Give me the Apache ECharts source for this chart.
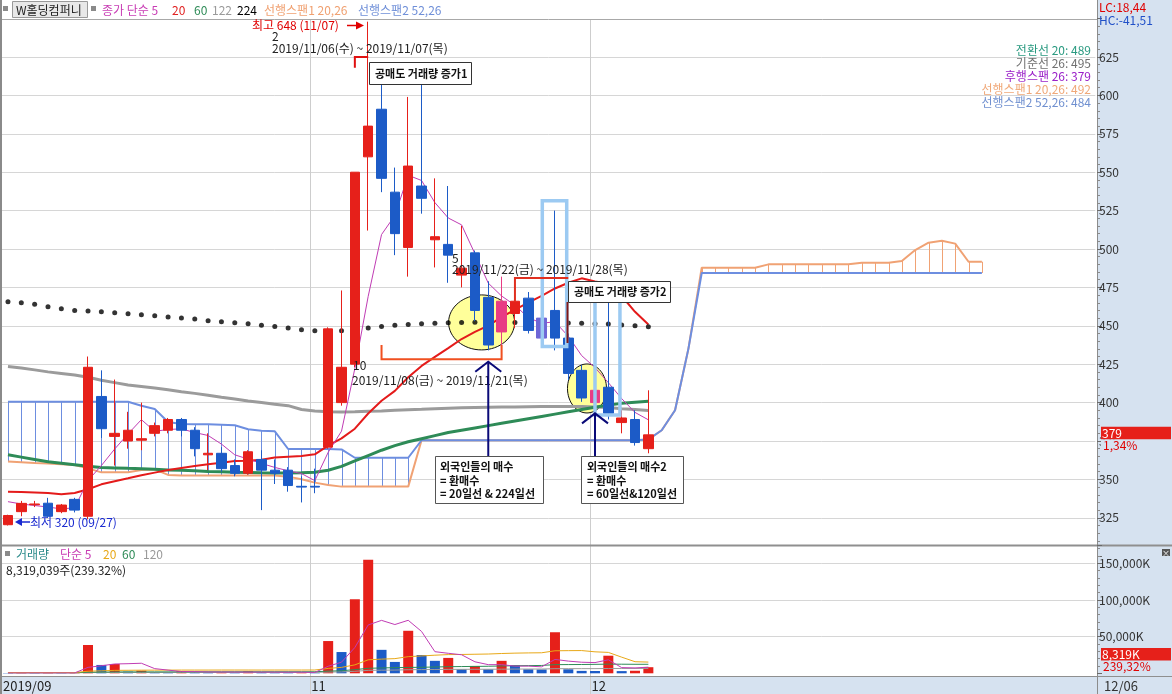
<!DOCTYPE html>
<html>
<head>
<meta charset="utf-8">
<script src="https://cdn.jsdelivr.net/npm/echarts@6.0.0/dist/echarts.min.js"></script>
<style>
html,body{margin:0;padding:0;background:#fff;overflow:hidden}
#chart{width:1172px;height:694px}
</style>
</head>
<body>
<div id="chart"></div>
<script>
// ---------------- DATA ----------------
const dates = ['2019/09/27','2019/09/30','2019/10/01','2019/10/02','2019/10/04','2019/10/07','2019/10/08','2019/10/10','2019/10/11','2019/10/14','2019/10/15','2019/10/16','2019/10/17','2019/10/18','2019/10/21','2019/10/22','2019/10/23','2019/10/24','2019/10/25','2019/10/28','2019/10/29','2019/10/30','2019/10/31','2019/11/01','2019/11/04','2019/11/05','2019/11/06','2019/11/07','2019/11/08','2019/11/11','2019/11/12','2019/11/13','2019/11/14','2019/11/15','2019/11/18','2019/11/19','2019/11/20','2019/11/21','2019/11/22','2019/11/25','2019/11/26','2019/11/27','2019/11/28','2019/11/29','2019/12/02','2019/12/03','2019/12/04','2019/12/05','2019/12/06'];
const opens  = [320.5,329,333.5,334.5,329,337,326,404,378,375,375.5,380,382,389,382,366,367,359,354,363,356,356,345.5,345.5,371,400,425,560,591,537,501,541,506,503,483,497.5,468.5,446,458,468,455,460,442,421,400,410,387,389,370];
const closes = [326.5,334.4,334,326,333.3,330,423,383,380,382,376.5,385,389,382,370,367,357,354,368,356,354,346,345,345,448,423,550,580,546,510,554,533,508,496,487.5,460,437.5,466,466,447,442,442,419,403,408,393,390,374,379];
const highs  = [327,336,336,338,334,338,430,421,415,394,400,387,390,390,384,380,371,363,369,369,363,358,352,357,449,473,550,648,610,553,599,610,546,541,515,499,479,482,468,472,457,525,445,424.5,420,469,395,395,408];
const lows   = [320,326,332,325,328,328.5,324,377,359,370,369,378,380,378,365,356,355,352,353,330,347,342,335,341,370,398,423,512,537,496,482,523,488,478,475,453,434,432,448.5,445,437.5,434,414.7,400.5,396,389,380,372,367];
const volumes = [400,500,450,600,350,500,38600,11400,12700,2300,3600,1800,1400,2800,1900,1300,1500,1000,2600,1800,1200,900,1100,800,44000,29000,101000,155000,32000,15500,58000,25000,17000,21000,5500,10000,5500,17000,11000,5500,5200,56000,5500,3300,3100,24000,3000,3480,8319];

const ma5   = [335.5,334,333,332,330.8,331.5,349.3,359,369.8,379.6,388.9,381.3,382.5,382.9,380.5,378.6,373,366,363.2,360.4,357.8,355.6,353.8,349.2,367.6,381.4,422.2,469.2,509.4,521.8,548,544.6,530.2,520.2,515.7,496.9,477.8,469.4,463.4,455.3,451.7,452.6,443.2,430.6,422.8,413,402.6,393.6,388.8];
const ma20  = [342,341.8,341.5,341.1,340.4,341.2,343.6,346.8,348.8,350.7,352.7,354.4,356.1,357.4,358.7,359.8,360.9,362,362.2,362.8,364.2,364.8,365.3,366.3,372,376.7,383,392.9,401.2,407.6,416.5,423.9,429.8,435.5,441.4,446,450.1,455.7,460.6,465.1,469.5,474.3,478,480.9,478.9,477.4,469.4,459.1,450.8];
const ma60  = [366,364.5,363,361.5,360.5,359.5,358.5,357.8,357.5,357.2,357,356.6,356.2,355.9,355.6,355.2,355,354.7,354.5,354.3,354.2,354.2,354.3,354.7,356,358.5,362,365.5,369,372,374.5,376.5,378.5,380.5,382,383.5,385,386.5,388,389.5,391,392.5,394,395.5,397,398.5,399.5,400.2,400.8];
const ma122 = [423.5,422.5,421.3,420,419,418,416.5,414.5,413,411.5,410.5,409.5,408.3,407,406,404.8,403.5,402.3,401,400,399,398,395.5,394.5,394,393.8,394,394.3,394.6,395,395.3,395.6,396,396.3,396.6,396.8,397,397.1,397.2,397.3,397.4,397.5,397.5,397.4,397.2,396.8,396,395.5,394.8];
const ma224 = [465.7,465.0,464.0,462.4,461.1,459.9,459.7,459.2,458.5,457.9,457.2,456.6,455.7,455.1,454.4,453.3,452.7,452.0,451.3,450.4,449.5,448.6,447.5,446.8,446.5,446.8,447.5,448.5,449.5,450.3,450.9,451.3,451.7,452.0,452.2,452.3,452.3,452.3,452.2,452.1,452.0,451.9,451.8,451.6,451.4,451.2,450.6,450.0,449.4];
// leading spans (shifted 25 slots ahead of the last candle)
const span1 = [361.6,361.2,360.7,360.3,359.9,359.4,357.2,354.6,354.6,354.6,356.1,356.5,352.9,352.5,352.5,352.5,352.5,352.5,352.5,352.5,352.5,351.8,350.1,347.9,346.4,345.3,345.3,345.3,345.3,345.3,345.3,
  375.5,375.5,375.5,375.5,375.5,375.5,375.5,375.5,375.5,375.5,375.5,375.5,375.5,375.5,375.5,375.5,375.5,
  376,382,395,435,487.8,487.8,487.8,487.8,487.8,490,490,490,490,490,490,490,491.1,491.1,491.1,492.2,499.3,504.1,505.4,503.5,491.7,491.7];
const span2 = [400.6,400.6,400.6,400.6,400.6,400.6,400.6,400.6,400.6,400.6,398,395.8,387.4,386.1,385.9,385.9,385.6,385.2,382.6,381.7,381.3,369.8,369.8,369.8,369.8,369.5,364.1,364.1,364.1,364.1,364.1,
  375.5,375.5,375.5,375.5,375.5,375.5,375.5,375.5,375.5,375.5,375.5,375.5,375.5,375.5,375.5,375.5,375.5,
  376,382,395,435,484.4,484.4,484.4,484.4,484.4,484.4,484.4,484.4,484.4,484.4,484.4,484.4,484.4,484.4,484.4,484.4,484.4,484.4,484.4,484.4,484.4,484.4];
const volMa5   = [450,450,460,470,460,480,8100,10290,12710,13100,13720,6360,4360,2380,2300,1840,1780,1700,1660,1640,1620,1500,1520,1160,9600,15160,35180,65960,72200,66500,72300,57100,29500,27300,25300,15700,11800,11800,9800,9800,8840,18940,16640,15100,14620,18380,7780,7376,8380];
const volMa20  = [1000,1000,1000,1000,1000,1000,2900,3400,4000,4100,4250,4300,4350,4400,4400,4400,4450,4450,4450,4400,4450,4450,4450,4480,6660,8080,11500,18400,19350,20000,22700,23700,24700,25500,25700,26000,26300,27000,27500,27800,28000,30700,30900,31000,29300,28500,22000,15800,15300];
const volMa60  = [800,800,800,800,800,800,1450,1650,1850,1880,1920,1950,1960,1980,2000,2010,2020,2030,2040,2050,2060,2070,2080,2090,3000,3500,5000,6800,7300,7700,8000,8200,8600,9000,9200,9400,9600,10000,10300,10500,10700,11800,11900,12000,12200,12500,12400,12300,12300];
const volMa120 = [600,600,600,600,600,600,900,1000,1050,1080,1100,1120,1130,1150,1160,1170,1180,1190,1200,1210,1220,1230,1240,1250,1650,1900,2700,4000,4250,4400,4850,5050,5200,5350,5400,5480,5520,5650,5740,5780,5820,6280,6320,6340,6360,6560,6580,6610,6670];

const xTickLabels = ['2019/09','11','12'];
const xTickIndex  = [0, 23, 44];
const futureSlots = 33;

// ---------------- STYLE ----------------
const F = '"Noto Sans CJK KR","Noto Sans",sans-serif';
const RED='#e6201a', BLUE='#1c5bc7', PINK='#e83c84', LAV='#6e66d6';
const SP1='#f0a274', SP2='#6d8ee0';
const PANEL='#d6e2f0';
const highlight = {37:PINK, 40:LAV, 44:PINK};

const cats = dates.concat(Array.from({length:futureSlots},(_,k)=>'+'+(k+1)));
const candleData = dates.map((d,i)=>{
  const it = {value:[opens[i], closes[i], lows[i], highs[i]]};
  if (highlight[i]) it.itemStyle = {color:highlight[i], color0:highlight[i], borderColor:highlight[i], borderColor0:highlight[i]};
  return it;
});
const volData = volumes.map((v,i)=>({value:v, itemStyle:{color:(i>0 && v>volumes[i-1])?RED:BLUE}}));

function lineS(data, color, width, xi, z){
  return {type:'line', xAxisIndex:xi, yAxisIndex:xi, data:data, showSymbol:false, symbol:'none', silent:true,
    lineStyle:{color:color, width:width}, itemStyle:{color:color}, z:z||3, emphasis:{disabled:true}};
}
function labelAxis(gi, min, max, interval, fmt){
  return {type:'value', gridIndex:gi, position:'right', offset:1.7, min:min, max:max, interval:interval, z:12,
    axisLine:{show:true, lineStyle:{color:'#8c8c8c'}},
    axisTick:{show:true, length:5, lineStyle:{color:'#6a6a6a'}},
    minorTick:{show:true, splitNumber:5, length:3, lineStyle:{color:'#8a8a8a'}},
    axisLabel:{show:true, color:'#333', fontSize:12, fontFamily:F, margin:2, showMinLabel:false, showMaxLabel:false, formatter:fmt},
    splitLine:{show:false}};
}
function gridAxis(gi, min, max, interval){
  return {type:'value', gridIndex:gi, position:'right', min:min, max:max, interval:interval, z:1,
    axisLine:{show:false}, axisTick:{show:false}, axisLabel:{show:false}, minorTick:{show:false},
    splitLine:{show:true, showMinLine:false, showMaxLine:false, lineStyle:{color:'#d6d6d6'}}};
}

const option = {
  animation:false,
  backgroundColor:'#ffffff',
  textStyle:{fontFamily:F},
  grid:[
    {left:1.3, right:76.7, top:18.6, height:537.6, outerBoundsMode:'none'},
    {left:1.3, right:76.7, top:545, height:128.3, outerBoundsMode:'none'}
  ],
  xAxis:[
    {type:'category', gridIndex:0, data:cats, boundaryGap:true, axisLine:{show:false}, axisTick:{show:false}, axisLabel:{show:false}, splitLine:{show:false}},
    {type:'category', gridIndex:1, data:cats, boundaryGap:true, axisLine:{show:false}, axisTick:{show:false}, axisLabel:{show:false}, splitLine:{show:false}}
  ],
  yAxis:[
    labelAxis(0, 300, 650, 25, function(v){return String(v);}),
    labelAxis(1, 0, 175000, 50000, function(v){return v.toLocaleString('en-US')+'K';}),
    gridAxis(0, 300, 650, 25),
    gridAxis(1, 0, 175000, 50000)
  ],
  series:[
    {type:'custom', xAxisIndex:0, yAxisIndex:0, z:3, silent:true,
      data: span1.map((a,i)=>[i, a, span2[i]]), encode:{x:0, y:[1,2]},
      renderItem:function(params, api){
        const a = api.value(1), b = api.value(2);
        if (Math.abs(a-b) < 0.05) return {type:'group', children:[]};
        const p = api.coord([api.value(0), a]);
        const q = api.coord([api.value(0), b]);
        const x = Math.round(p[0]) + 0.5;
        return {type:'line', shape:{x1:x, y1:p[1], x2:x, y2:q[1]}, style:{stroke: b > a ? SP2 : SP1, lineWidth:1}};
      }},
    lineS(span1, SP1, 2, 0, 3),
    lineS(span2, SP2, 2, 0, 3),
    lineS(ma122, '#9b9b9b', 3, 0, 3),
    lineS(ma60, '#2e8b57', 3, 0, 3),
    lineS(ma20, '#e41b1b', 2, 0, 3),
    lineS(ma5, '#c03cb4', 1, 0, 3),
    {type:'scatter', xAxisIndex:0, yAxisIndex:0, data: ma224.map((v,i)=>[i,v]), symbol:'circle', symbolSize:5,
      itemStyle:{color:'#000'}, silent:true, z:4, emphasis:{disabled:true}},
    {type:'candlestick', xAxisIndex:0, yAxisIndex:0, data:candleData, barWidth:10, z:5, silent:true,
      itemStyle:{color:RED, color0:BLUE, borderColor:RED, borderColor0:BLUE, borderWidth:1}},
    {type:'bar', xAxisIndex:1, yAxisIndex:1, data:volData, barWidth:10, z:3, silent:true},
    lineS(volMa120, '#9b9b9b', 1, 1, 4),
    lineS(volMa60, '#2e8b57', 1, 1, 4),
    lineS(volMa20, '#e8a818', 1, 1, 4),
    lineS(volMa5, '#c03cb4', 1, 1, 4)
  ]
};

const chart = echarts.init(document.getElementById('chart'), null, {renderer:'canvas'});
chart.setOption(option);

// ---------------- decorations / annotations ----------------
const X0 = chart.convertToPixel({xAxisIndex:0}, cats[0]);
const X1 = chart.convertToPixel({xAxisIndex:0}, cats[1]);
const W = X1 - X0;
const px = i => X0 + i*W;
const py = v => chart.convertToPixel({yAxisIndex:0}, v);

const G = [];
function T(x, y, text, color, o){
  o = o || {};
  G.push({type:'text', x:x, y:y, z:o.z||10, silent:true,
    style:{text:text, fill:color, font:(o.bold?'bold ':'')+(o.size||12)+'px '+F,
      textAlign:o.align||'left', textVerticalAlign:'middle', verticalAlign:'middle'}});
}
function L(x1,y1,x2,y2,color,w,z){
  G.push({type:'line', silent:true, z:(z===undefined?10:z), shape:{x1:x1,y1:y1,x2:x2,y2:y2}, style:{stroke:color, lineWidth:w||1}});
}
function R(x,y,w,h,fill,stroke,lw,z){
  G.push({type:'rect', silent:true, z:(z===undefined?10:z), shape:{x:x,y:y,width:w,height:h}, style:{fill:fill||'none', stroke:stroke||'none', lineWidth:lw||1}});
}
function PL(points,color,w,z){
  G.push({type:'polyline', silent:true, z:(z===undefined?10:z), shape:{points:points}, style:{stroke:color, lineWidth:w||1, fill:'none'}});
}
function PG(points,color,z){
  G.push({type:'polygon', silent:true, z:(z===undefined?10:z), shape:{points:points}, style:{fill:color}});
}

// panel backgrounds (below everything)
R(1097, 0, 75, 694, PANEL, null, 1, -1);
R(0, 676, 1097, 18, PANEL, null, 1, -1);
// panel borders
L(0, 19.5, 1097, 19.5, '#a8a8a8', 1, 6);
L(0, 545.5, 1172, 545.5, '#8f8f8f', 2, 6);
L(0, 676.5, 1172, 676.5, '#8f8f8f', 1, 6);
L(1, 0, 1, 694, '#8a8a8a', 2, 6);
L(1097.5, 0, 1097.5, 694, '#8c8c8c', 1, 6);
// month dividers
xTickIndex.slice(1).forEach(i=>{
  const x = Math.round(px(i)-5.3)+0.5;
  L(x, 20, x, 694, '#cdcdcd', 1, 1);
});
// x labels
xTickIndex.forEach((i,k)=>{
  const x = k===0 ? 3 : px(i)-3.5;
  T(x, 686, xTickLabels[k], '#222', {size:13});
});
T(1104, 686, '12/06', '#333', {size:13});

// top legend
R(3, 6, 5, 5, '#8a8a8a', null, 1, 10);
R(12.5, 1.5, 75, 16, '#e8e8e8', '#9a9a9a', 1, 10);
T(16, 10, 'W홀딩컴퍼니', '#222');
R(91, 6, 5, 5, '#8a8a8a', null, 1, 10);
T(102, 10, '종가 단순 5', '#c83cb4');
T(172, 10, '20', '#e02020');
T(194, 10, '60', '#2e8b57');
T(212, 10, '122', '#9a9a9a');
T(237, 10, '224', '#000');
T(264, 10, '선행스팬1 20,26', '#f0a070');
T(358, 10, '선행스팬2 52,26', '#6f8fd8');

// right top legend
T(1091, 50, '전환선 20: 489', '#2a9a80', {align:'right'});
T(1091, 63, '기준선 26: 495', '#707070', {align:'right'});
T(1091, 76, '후행스팬 26: 379', '#9a20c8', {align:'right'});
T(1091, 89, '선행스팬1 20,26: 492', '#f0a878', {align:'right'});
T(1091, 102, '선행스팬2 52,26: 484', '#7090d0', {align:'right'});

// axis panel texts
T(1099, 7, 'LC:18,44', '#e00000', {z:14});
T(1099, 20, 'HC:-41,51', '#2050c8', {z:14});
const yc = py(closes[closes.length-1]);
R(1101, yc-8, 70, 12.5, RED, null, 1, 14);
R(1101, yc+4.5, 70, 12.5, PANEL, null, 1, 13);
T(1102, yc-1.6, '379', '#fff', {z:15});
T(1103, yc+11, '1,34%', '#e00000', {z:14});
R(1101, 648, 70, 12.5, RED, null, 1, 14);
T(1102, 654.3, '8,319K', '#fff', {z:15});
T(1103, 666, '239,32%', '#e00000', {z:14});
R(1162, 549, 8, 7, '#555', null, 1, 14);
T(1166, 552.5, '×', '#fff', {size:8, align:'center', z:15});

// volume legend
R(5, 551, 5, 5, '#8a8a8a', null, 1, 10);
T(16, 554, '거래량', '#2a8a8a');
T(60, 554, '단순 5', '#c83cb4');
T(103, 554, '20', '#e8a818');
T(122, 554, '60', '#2e8b57');
T(143, 554, '120', '#9a9a9a');
T(6, 570, '8,319,039주(239.32%)', '#222');

// highlight ellipses (behind candles)
G.push({type:'ellipse', silent:true, z:2, shape:{cx:px(35.5), cy:py(452.2), rx:33, ry:27.5}, style:{fill:'#ffff9a', stroke:'#111', lineWidth:1}});
G.push({type:'ellipse', silent:true, z:2, shape:{cx:px(43.4), cy:py(409.2), rx:19.5, ry:24.5}, style:{fill:'#ffff9a', stroke:'#111', lineWidth:1}});
// light blue boxes
R(px(40.05), py(531.4), px(41.88)-px(40.05), py(436.5)-py(531.4), 'none', '#9ccaf2', 3.5, 6);
R(px(44.0), py(471.2), px(45.87)-px(44.0), py(391.9)-py(471.2), 'none', '#9ccaf2', 3.5, 6);

// highest / lowest
T(252, 25.5, '최고 648 (11/07)', '#e00000');
L(347, 25.5, 358, 25.5, '#e00000', 1.5);
PG([[356,21.5],[364,25.5],[356,29.5]], '#e00000');
PG([[22,518],[15,522],[22,526]], '#1a2ad0');
L(21, 522, 30, 522, '#1a2ad0', 1.5);
T(30, 522, '최저 320 (09/27)', '#1a2ad0');

// period brackets
PL([[px(26),py(618)],[px(26),py(625)],[px(27),py(625)]], '#e01010', 2);
T(272, 36, '2', '#222');
T(272, 48.5, '2019/11/06(수) ~ 2019/11/07(목)', '#222');
PL([[px(28),py(437.5)],[px(28),py(428.2)],[px(37),py(428.2)],[px(37),py(437.5)]], '#f05020', 2);
T(353, 365, '10', '#222');
T(352, 380, '2019/11/08(금) ~ 2019/11/21(목)', '#222');
PL([[px(38),py(465.5)],[px(38),py(481.1)],[px(42),py(481.1)]], '#e03020', 2);
T(452, 258, '5', '#222');
T(452, 269, '2019/11/22(금) ~ 2019/11/28(목)', '#222');
L(px(41.94), py(465.5), px(41.94), py(438.8), '#801818', 2);

// callout boxes
R(369.5, 62.5, 102, 22, '#fff', '#333', 1);
T(375, 73.5, '공매도 거래량 증가1', '#111', {bold:true, size:11});
R(568.5, 281.5, 102, 21, '#fff', '#333', 1);
T(574, 292, '공매도 거래량 증가2', '#111', {bold:true, size:11});

// arrows
function upArrow(i, vTop, vBot){
  const x = px(i), yt = py(vTop), yb = py(vBot);
  L(x, yt, x, yb, '#0a0a78', 2);
  PL([[x-13, yt+10],[x, yt],[x+13, yt+10]], '#0a0a78', 2);
}
upArrow(36, 426.6, 364.8);
upArrow(44, 393.0, 365.2);

R(435.5, 456.5, 108, 47, '#fff', '#555', 1);
T(440, 467, '외국인들의 매수', '#111', {bold:true, size:11});
T(440, 480.5, '= 환매수', '#111', {bold:true, size:11});
T(440, 494, '= 20일선 & 224일선', '#111', {bold:true, size:11});
R(581.5, 456.5, 102, 47, '#fff', '#555', 1);
T(587, 467, '외국인들의 매수2', '#111', {bold:true, size:11});
T(587, 480.5, '= 환매수', '#111', {bold:true, size:11});
T(587, 494, '= 60일선&120일선', '#111', {bold:true, size:11});

chart.setOption({graphic:{elements:G}});
</script>
</body>
</html>
